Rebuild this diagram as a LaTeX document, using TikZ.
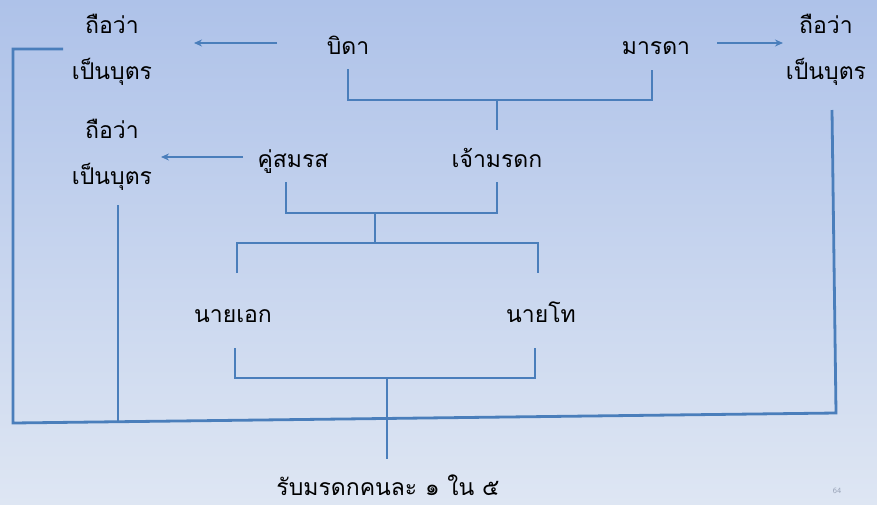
\documentclass[tikz,border=0pt]{standalone}
\usepackage{fontspec}
\newfontfamily\thaifont[Script=Thai]{Loma}
\usetikzlibrary{arrows.meta}
\definecolor{ln}{HTML}{4A7EBB}
\definecolor{bgtop}{HTML}{AEC2E9}
\definecolor{bgbot}{HTML}{DEE6F3}
\definecolor{pg}{HTML}{9AA4B8}
\begin{document}
\begin{tikzpicture}[x=1pt,y=-1pt,
  lbl/.style={font=\thaifont\fontsize{23}{46}\selectfont, inner sep=0pt, align=center, text=black},
  one/.style={lbl, anchor=base},
  conn/.style={draw=ln, line width=2.8pt},
  arr/.style={draw=ln, line width=2pt, -{Stealth[length=8pt,width=7pt]}}]
\shade[top color=bgtop, bottom color=bgbot] (0,0) rectangle (877,504);
\useasboundingbox (0,0) rectangle (877,504);
% texts
\node[lbl] (tl) at (112,50) {ถือว่า\\เป็นบุตร};
\node[lbl] (tr) at (826,50) {ถือว่า\\เป็นบุตร};
\node[lbl] (ml) at (112,155) {ถือว่า\\เป็นบุตร};
\node[one] (father) at (348,54) {บิดา};
\node[one] (mother) at (656,54) {มารดา};
\node[one] (spouse) at (293,167) {คู่สมรส};
\node[one] (heir) at (497,167) {เจ้ามรดก};
\node[one] (ek) at (233,322) {นายเอก};
\node[one] (tho) at (541,322) {นายโท};
\node[one] (res) at (388,495) {รับมรดกคนละ ๑ ใน ๕};
\node[font=\sffamily\fontsize{8}{9}\selectfont, text=pg, inner sep=0pt] (pnum) at (837,491) {64};
% arrows
\coordinate (a1s) at (277,43); \coordinate (a1e) at (194,43);
\coordinate (a2s) at (717,43); \coordinate (a2e) at (783,43);
\coordinate (a3s) at (243,157); \coordinate (a3e) at (161,157);
\draw[arr] (a1s) -- (a1e);
\draw[arr] (a2s) -- (a2e);
\draw[arr] (a3s) -- (a3e);
% parents bracket
\coordinate (p1) at (348,69); \coordinate (p2) at (652,70);
\coordinate (pm) at (497,100); \coordinate (pmb) at (497,130);
\draw[conn] (p1) |- (pm) -| (p2);
\draw[conn] (pm) -- (pmb);
% spouse/heir bracket
\coordinate (s1) at (286,182); \coordinate (s2) at (497,182);
\coordinate (sm) at (375,213); \coordinate (smb) at (375,243);
\coordinate (c1) at (237,273); \coordinate (c2) at (538,273);
\draw[conn] (s1) |- (sm) -| (s2);
\draw[conn] (sm) -- (smb);
\draw[conn] (c1) |- (smb) -| (c2);
% children bracket
\coordinate (k1) at (235,348); \coordinate (k2) at (535,348);
\coordinate (km) at (387,378); \coordinate (kmb) at (387,459);
\draw[conn] (k1) |- (km) -| (k2);
\draw[conn] (km) -- (kmb);
% outer frame
\coordinate (o1) at (63,49); \coordinate (o2) at (13,49);
\coordinate (o3) at (13,423); \coordinate (o4) at (836,413);
\coordinate (o5) at (832,110); \coordinate (o6) at (118,205);
\coordinate (o7) at (118,422);
\draw[conn] (o1) -- (o2) -- (o3) -- (o4) -- (o5);
\draw[conn] (o6) -- (o7);
\end{tikzpicture}
\end{document}
